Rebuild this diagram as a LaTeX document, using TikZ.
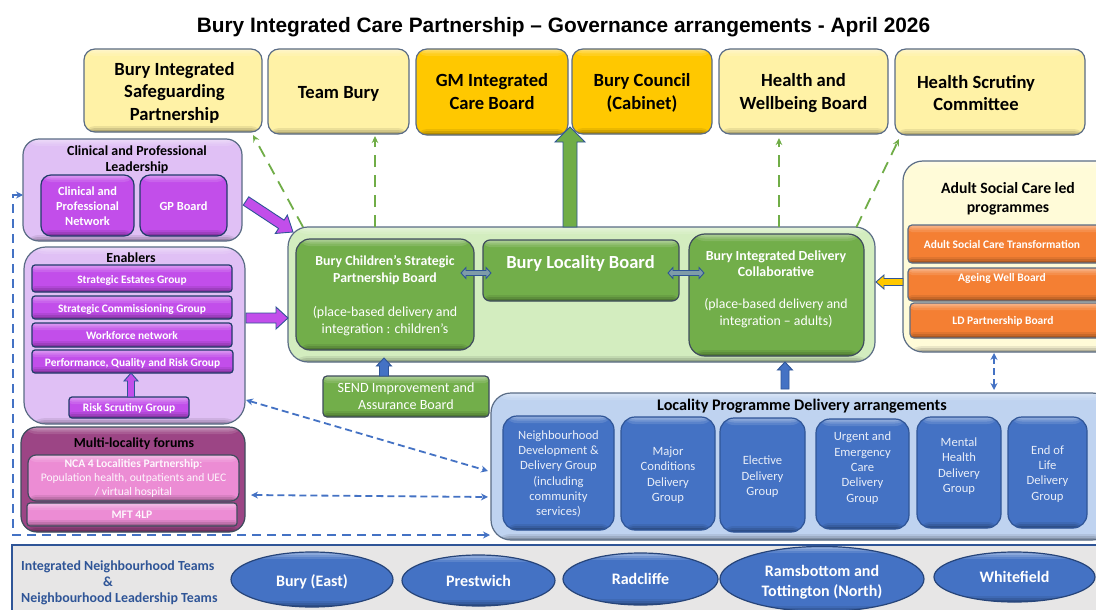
\documentclass[tikz,border=0pt]{standalone}
\usepackage{fontspec}
\setmainfont{Carlito}
\newfontfamily\titlefont{Liberation Sans}
\usetikzlibrary{calc,arrows.meta,shapes.geometric}
\definecolor{edgeC}{HTML}{5A6C85}
\definecolor{navyC}{HTML}{2F5597}
\definecolor{yelC}{HTML}{FFF2A6}
\definecolor{goldC}{HTML}{FFC800}
\definecolor{lilacC}{HTML}{E0C0F5}
\definecolor{purpC}{HTML}{C24EEA}
\definecolor{greenC}{HTML}{72AE4A}
\definecolor{paleGreenC}{HTML}{D3EDBF}
\definecolor{dashGreenC}{HTML}{70AD47}
\definecolor{blueC}{HTML}{4472C4}
\definecolor{paleBlueC}{HTML}{BFD3F0}
\definecolor{creamC}{HTML}{FFFBD8}
\definecolor{orangeC}{HTML}{F47F33}
\definecolor{pinkC}{HTML}{EC8CD4}
\definecolor{plumC}{HTML}{9C4585}
\definecolor{bandC}{HTML}{E7E6E6}
\definecolor{slateC}{HTML}{7E9CA8}
\tikzset{
  bevel/.style={draw=edgeC,line width=1.2pt,inner sep=0pt,outer sep=0pt,align=center,
    path picture={
      \fill[white,opacity=.12] (path picture bounding box.north west) rectangle ([yshift=-7pt]path picture bounding box.north east);
      \fill[white,opacity=.15] (path picture bounding box.north west) rectangle ([yshift=-4.5pt]path picture bounding box.north east);
      \fill[white,opacity=.18] (path picture bounding box.north west) rectangle ([yshift=-2.5pt]path picture bounding box.north east);
      \fill[black,opacity=.08] (path picture bounding box.south west) rectangle ([yshift=6pt]path picture bounding box.south east);
      \fill[black,opacity=.11] (path picture bounding box.south west) rectangle ([yshift=4pt]path picture bounding box.south east);
      \fill[black,opacity=.15] (path picture bounding box.south west) rectangle ([yshift=2pt]path picture bounding box.south east);
    }},
  topbox/.style={bevel,rounded corners=11pt,font=\fontsize{18.6}{22.5}\selectfont\bfseries,text=black},
  panel/.style={bevel,rounded corners=#1},
  purpbox/.style={bevel,fill=purpC,rounded corners=#1,text=white,font=\fontsize{11.4}{14.8}\selectfont\bfseries,draw=navyC!70!black},
  greenbox/.style={bevel,fill=greenC,rounded corners=#1,text=white,draw=edgeC!70!black},
  orangebox/.style={bevel,fill=orangeC,rounded corners=4pt,text=white},
  pinkbox/.style={bevel,fill=pinkC,rounded corners=#1,text=white!92!pinkC,draw=edgeC!70!black},
  delivery/.style={bevel,fill=blueC,rounded corners=#1,text=white!88!blueC,font=\fontsize{12.6}{15.3}\selectfont,draw=navyC},
  place/.style={ellipse,bevel,fill=blueC,text=white,draw=navyC!80!black,font=\fontsize{16}{20}\selectfont\bfseries},
  head/.style={inner sep=0pt,align=center,text=black,font=\fontsize{13.9}{16}\selectfont\bfseries},
  lbl/.style={inner sep=0pt,align=center,text=white},
  gdash/.style={draw=dashGreenC,line width=1.8pt,dash pattern=on 12pt off 8pt,-{Stealth[length=7pt,width=6.5pt]}},
  bdash/.style={draw=blueC,line width=1.8pt,dash pattern=on 7pt off 4pt,{Stealth[length=7pt,width=7pt]}-{Stealth[length=7pt,width=7pt]}},
  blockline/.style={draw=navyC,line width=.9pt,line join=miter}
}
% [down shift][right shift]{name}{x1}{y1}{x2}{y2}{style}{text}
\NewDocumentCommand\bx{O{2pt}O{0pt}mmmmmmm}{\node[#8,minimum width={(#6-#4)*1pt},minimum height={(#7-#5)*1pt}] (#3) at ({(#4+#6)/2},{(#5+#7)/2}) {\vbox{\kern\dimexpr2\dimexpr#1\relax\relax\hbox{\kern\dimexpr2\dimexpr#2\relax\relax\begin{tabular}{@{}c@{}}#9\end{tabular}}}};}
% from, to, half shaft, half head, head length, fill
\newcommand\blockarrow[6]{\coordinate (hh) at ($(#2)!#5!(#1)$);
 \draw[blockline,fill=#6] ($(#1)!#3!90:(#2)$) -- ($(hh)!#3!90:(#2)$) -- ($(hh)!#4!90:(#2)$) -- (#2) -- ($(hh)!#4!-90:(#2)$) -- ($(hh)!#3!-90:(#2)$) -- ($(#1)!#3!-90:(#2)$) -- cycle;}
\newcommand\blockboth[6]{\coordinate (hh) at ($(#2)!#5!(#1)$); \coordinate (hg) at ($(#1)!#5!(#2)$);
 \draw[blockline,fill=#6] (#1) -- ($(hg)!#4!90:(#2)$) -- ($(hg)!#3!90:(#2)$) -- ($(hh)!#3!90:(#2)$) -- ($(hh)!#4!90:(#2)$) -- (#2) -- ($(hh)!#4!-90:(#2)$) -- ($(hh)!#3!-90:(#2)$) -- ($(hg)!#3!-90:(#2)$) -- ($(hg)!#4!-90:(#2)$) -- cycle;}
\begin{document}
\begin{tikzpicture}[x=1pt,y=-1pt]
\useasboundingbox (0,0) rectangle (1096,610);
\fill[white] (0,0) rectangle (1096,610);
\node[inner sep=0pt,text=black,font=\titlefont\fontsize{20.85}{23}\selectfont\bfseries] (title) at (563.5,27.5) {Bury Integrated Care Partnership – Governance arrangements - April 2026};
% top row
\bx[3pt][1.5pt]{safe}{84}{49}{262}{132}{topbox,fill=yelC}{Bury Integrated\\Safeguarding\\Partnership}
\bx[3pt]{team}{268}{49}{409}{134}{topbox,fill=yelC}{Team Bury}
\bx[1.5pt]{gm}{416}{49}{568}{135}{topbox,fill=goldC}{GM Integrated\\Care Board}
\bx[2pt]{council}{572}{49}{712}{134}{topbox,fill=goldC}{Bury Council\\(Cabinet)}
\bx{hwb}{719}{49}{888}{134}{topbox,fill=yelC}{Health and\\Wellbeing Board}
\bx[3pt][-14pt]{scrut}{895}{49}{1085}{135}{topbox,fill=yelC}{Health Scrutiny\\Committee}
% clinical panel
\bx{cpl}{23}{139}{242}{241}{panel=16pt,fill=lilacC}{}
\node[head] (cplT) at (137,160) {Clinical and Professional\\Leadership};
\bx[1.5pt]{cpn}{41}{175}{134}{236}{purpbox=10pt,font=\fontsize{12.4}{15}\selectfont\bfseries}{Clinical and\\Professional\\Network}
\bx[1.5pt]{gpb}{140}{175}{227}{236}{purpbox=10pt,font=\fontsize{12.4}{15}\selectfont\bfseries}{GP Board}
% enablers
\bx{enab}{24}{247}{245}{424}{panel=22pt,fill=lilacC}{}
\node[head] (enabT) at (131,258) {Enablers};
\bx{est}{32}{265}{232}{292}{purpbox=3pt}{Strategic Estates Group}
\bx{comm}{32}{296}{232}{319}{purpbox=3pt}{Strategic Commissioning Group}
\bx{work}{32}{323}{232}{347}{purpbox=3pt}{Workforce network}
\bx{perf}{32}{350}{233}{373}{purpbox=3pt}{Performance, Quality and Risk Group}
\bx[1pt]{risk}{69}{397}{189}{418}{purpbox=3pt}{Risk Scrutiny Group}
\coordinate (riskA) at ([xshift=2pt]risk.north);
\coordinate (riskB) at ([xshift=-1.5pt]perf.south);
\blockarrow{riskA}{riskB}{3.5pt}{7pt}{8pt}{purpC}
% multi-locality
\bx{multi}{21}{427}{245}{532}{bevel,rounded corners=16pt,fill=plumC,draw=edgeC!70!black}{}
\node[head,font=\fontsize{13.8}{16}\selectfont\bfseries] (multiT) at (134,444) {Multi-locality forums};
\bx[1pt]{nca}{28}{455}{239}{501}{pinkbox=8pt,font=\fontsize{11.6}{14}\selectfont}{\textbf{NCA 4 Localities Partnership}:\\Population health, outpatients and UEC\\/ virtual hospital}
\bx[1pt]{mft}{27}{503}{237}{526}{pinkbox=3pt,font=\fontsize{11.6}{14}\selectfont\bfseries}{MFT 4LP}
% main green
\bx{main}{288}{227}{875}{362}{panel=20pt,fill=paleGreenC}{}
\bx{child}{296}{239}{474}{350}{greenbox=14pt}{}
\node[lbl,font=\fontsize{13.8}{17}\selectfont\bfseries] (childA) at (385,270.5) {Bury Children’s Strategic\\Partnership Board};
\node[lbl,font=\fontsize{13.9}{17}\selectfont] (childB) at (385,321) {(place-based delivery and\\integration : children’s};
\bx{loc}{483}{240}{679}{301}{greenbox=7pt}{}
\node[lbl,font=\fontsize{18.5}{20}\selectfont\bfseries] (locT) at (580.5,263.5) {Bury Locality Board};
\bx{idc}{689}{234}{864}{356}{greenbox=16pt}{}
\node[lbl,font=\fontsize{13.9}{16}\selectfont\bfseries] (idcA) at (776,263.5) {Bury Integrated Delivery\\Collaborative};
\node[lbl,font=\fontsize{13.8}{17}\selectfont] (idcB) at (776,313.5) {(place-based delivery and\\integration – adults)};
\bx[1pt]{send}{323}{376}{489}{417}{greenbox=4pt,font=\fontsize{14.1}{17}\selectfont}{SEND Improvement and\\Assurance Board}
% adult social care
\bx{asc}{903}{161}{1116}{352}{panel=20pt,fill=creamC}{}
\node[head,font=\fontsize{15.7}{19}\selectfont\bfseries] (ascT) at (1008,199) {Adult Social Care led\\programmes};
\bx{ascA}{908}{225}{1104}{263}{orangebox}{}
\node[lbl,font=\fontsize{11.5}{13}\selectfont\bfseries] (ascAT) at (1002,244.5) {Adult Social Care Transformation};
\bx{ascB}{908}{268}{1104}{301}{orangebox}{}
\node[lbl,font=\fontsize{11.5}{13}\selectfont\bfseries] (ascBT) at (1002,278.5) {Ageing Well Board};
\bx{ascC}{910}{303}{1104}{338}{orangebox}{}
\node[lbl,font=\fontsize{11.5}{13}\selectfont\bfseries] (ascCT) at (1003,321.5) {LD Partnership Board};
% locality programme
\bx{prog}{491}{393}{1112}{540}{panel=20pt,fill=paleBlueC}{}
\node[head,font=\fontsize{16.2}{17}\selectfont\bfseries] (progT) at (802,406.5) {Locality Programme Delivery arrangements};
\bx[1.5pt]{nd}{503}{416}{614}{530}{delivery=14pt}{Neighbourhood\\Development \&\\Delivery Group\\(including\\community\\services)}
\bx[2pt]{maj}{621}{417}{715}{530}{delivery=14pt}{Major\\Conditions\\Delivery\\Group}
\bx[2pt]{ele}{720}{418}{805}{532}{delivery=14pt}{Elective\\Delivery\\Group}
\bx[-5.5pt]{urg}{816}{419}{909}{529}{delivery=14pt}{Urgent and\\Emergency\\Care\\Delivery\\Group}
\bx[-6pt]{men}{917}{417}{1001}{528}{delivery=14pt}{Mental\\Health\\Delivery\\Group}
\bx[1.5pt]{eol}{1008}{417}{1087}{528}{delivery=14pt}{End of\\Life\\Delivery\\Group}
% band
\bx[0pt]{band}{12}{545}{1120}{630}{draw=navyC,line width=2.5pt,fill=bandC,inner sep=0pt}{}
\node[inner sep=0pt,anchor=west,align=left,text=navyC,font=\fontsize{13.9}{16}\selectfont\bfseries] (bandT) at (21,582.5) {Integrated Neighbourhood Teams\\\hspace*{82pt}\&\\Neighbourhood Leadership Teams};
\bx[3pt]{east}{231}{552}{393}{607}{place}{Bury (East)}
\bx[1.5pt]{pres}{402}{555}{555}{606}{place}{Prestwich}
\bx[1.5pt]{rad}{563}{553}{718}{605}{place}{Radcliffe}
\bx[3pt]{ram}{720}{551}{924}{607}{place}{Ramsbottom and\\Tottington (North)}
\bx[1.5pt]{whi}{934}{552}{1095}{602}{place}{Whitefield}
% green dashed connectors
\draw[gdash] ([xshift=-278.5pt]main.north) -- ([xshift=-9pt,yshift=-3pt]safe.south east);
\draw[gdash] ([xshift=-206.5pt]main.north) -- ([xshift=36.5pt,yshift=-2pt]team.south);
\draw[gdash] ([xshift=197.5pt]main.north) -- ([xshift=-24.5pt,yshift=-4pt]hwb.south);
\draw[gdash] ([xshift=275pt]main.north) -- ([xshift=-186pt,yshift=-4pt]scrut.south east);
% block arrows
\coordinate (bigA) at ([xshift=-11.5pt]main.north);
\coordinate (bigB) at ([xshift=2pt,yshift=8pt]gm.south east);
\blockarrow{bigA}{bigB}{7pt}{15pt}{15pt}{dashGreenC}
\coordinate (cplA) at ([xshift=4pt,yshift=40pt]cpl.south east);
\coordinate (cplB) at ([xshift=5pt,yshift=-5pt]main.north west);
\blockarrow{cplA}{cplB}{5pt}{11pt}{14pt}{purpC}
\coordinate (enA) at ([xshift=1pt,yshift=17.5pt]enab.east);
\coordinate (enB) at ([yshift=-23.5pt]main.west);
\blockarrow{enA}{enB}{5pt}{11pt}{12pt}{purpC}
\coordinate (sendA) at ([xshift=-22pt]send.north);
\coordinate (sendB) at ([xshift=-197.5pt,yshift=4pt]main.south);
\blockarrow{sendA}{sendB}{4.5pt}{7.5pt}{8pt}{blueC}
\coordinate (progA) at ([xshift=-16.5pt,yshift=4pt]prog.north);
\coordinate (progB) at ([xshift=203.5pt]main.south);
\blockarrow{progA}{progB}{4pt}{7.5pt}{8pt}{blueC}
\coordinate (ascaA) at ([yshift=-25.5pt]asc.west);
\coordinate (ascaB) at ([xshift=1pt,yshift=12.5pt]main.east);
\blockarrow{ascaA}{ascaB}{3.5pt}{7pt}{8pt}{goldC}
\coordinate (dA) at ([xshift=-13pt,yshift=21.5pt]child.east);
\coordinate (dB) at ([xshift=8pt,yshift=-2.5pt]loc.west);
\blockboth{dA}{dB}{2.5pt}{5.5pt}{5pt}{slateC}
\coordinate (eA) at ([xshift=-11pt,yshift=-2.5pt]loc.east);
\coordinate (eB) at ([xshift=15pt,yshift=22pt]idc.west);
\blockboth{eA}{eB}{2.5pt}{5.5pt}{5pt}{slateC}
% blue dashed connectors
\draw[bdash] ([xshift=1pt,yshift=24pt]enab.south east) -- ([xshift=-3pt,yshift=-4.5pt]prog.west);
\draw[bdash] ([xshift=6pt,yshift=-15.5pt]multi.east) -- ([xshift=-3pt,yshift=-30.5pt]prog.west);
\draw[bdash] ([xshift=-15.5pt,yshift=-1pt]asc.south) -- ([xshift=192.5pt,yshift=3pt]prog.north);
\coordinate (elbowA) at ([xshift=-8pt,yshift=-3pt]multi.south west);
\coordinate (elbowB) at ([xshift=-10pt,yshift=-5pt]cpl.west);
\draw[bdash,dash pattern=on 9pt off 6pt] ([xshift=-1pt,yshift=5pt]prog.south west) -- (elbowA) -- (elbowA |- elbowB) -- ([yshift=-5pt]cpl.west);
\end{tikzpicture}
\end{document}
